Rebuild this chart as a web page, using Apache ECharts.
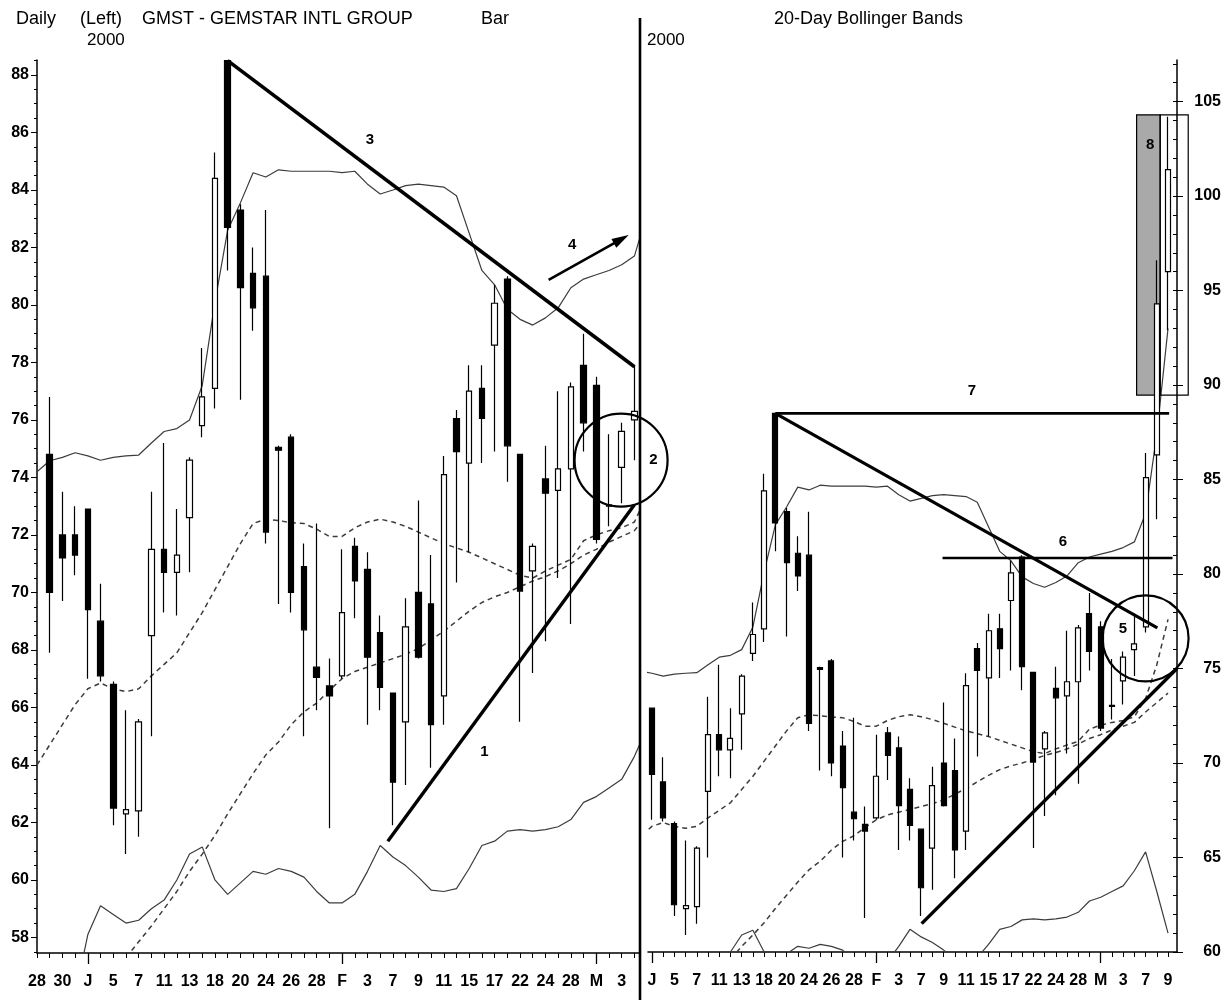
<!DOCTYPE html>
<html>
<head>
<meta charset="utf-8">
<title>GMST - Gemstar Intl Group, 20-Day Bollinger Bands</title>
<script src="https://cdn.jsdelivr.net/npm/echarts@6/dist/echarts.min.js"></script>
<style>
  html, body { margin: 0; padding: 0; background: #ffffff; }
  #chart { width: 1231px; height: 1000px; }
</style>
</head>
<body>
<div id="chart"></div>
<script>
// Trading days, 28 Dec 1999 .. 9 Mar 2000 (index 0 = Dec 28)
const dayLabels = ['28','29','30','31',
  'J','4','5','6','7','10','11','12','13','14','18','19','20','21','24','25','26','27','28','31',
  'F','2','3','4','7','8','9','10','11','14','15','16','17','18','22','23','24','25','28','29',
  'M','2','3','6','7','8','9'];
const monthStarts = [4, 24, 44];

// Daily prices
const openP  = [null, 74.8, 72.0, 72.0, 72.9, 69.0, 66.8, 62.3, 62.4, 68.5, 71.5, 70.7, 72.6, 75.8, 77.1, 88.5,
  83.3, 81.1, 81.0, 75.05, 75.4, 70.9, 67.4, 66.75, 67.1, 71.6, 70.8, 68.6, 66.5, 65.5, 70.0, 69.6, 66.4,
  76.05, 74.5, 77.1, 78.6, 80.9, 74.8, 70.75, 73.95, 73.55, 74.3, 77.9, 77.2, 73.0, 74.35, 76.0, 77.2, 86.3, 96.0];
const highP  = [null, 76.8, 73.5, 73.0, 72.9, 70.3, 66.9, 65.9, 65.6, 73.5, 75.2, 72.9, 74.7, 78.5, 85.3, 88.5,
  83.5, 82.0, 83.3, 75.1, 75.5, 71.7, 72.4, 67.7, 71.5, 71.9, 71.4, 69.2, 66.5, 69.8, 73.2, 71.3, 74.75,
  76.35, 77.9, 77.9, 80.7, 81.0, 74.8, 71.7, 75.1, 77.0, 77.3, 79.0, 77.5, 75.5, 75.9, 77.9, 86.4, 96.6, 104.2];
const lowP   = [null, 67.9, 69.7, 70.6, 67.0, 66.9, 61.9, 60.9, 61.5, 65.0, 69.3, 69.2, 70.7, 75.4, 76.4, 81.2,
  76.7, 79.1, 71.7, 69.6, 69.3, 65.0, 65.9, 61.8, 67.0, 69.1, 65.4, 65.9, 61.9, 63.3, 67.7, 63.9, 65.4,
  70.35, 71.4, 74.5, 74.9, 73.85, 65.5, 67.2, 68.3, 70.5, 68.9, 74.9, 71.7, 72.3, 73.1, 74.6, 76.9, 82.9, 92.9];
const closeP = [null, 70.0, 71.2, 71.3, 69.4, 67.1, 62.5, 62.45, 65.5, 71.5, 70.7, 71.3, 74.6, 76.8, 84.4, 82.7,
  80.6, 79.9, 72.1, 74.95, 70.0, 68.7, 67.05, 66.4, 69.3, 70.4, 67.75, 66.7, 63.4, 68.8, 67.75, 65.4, 74.1,
  74.9, 77.0, 76.05, 80.06, 75.1, 70.05, 71.6, 73.45, 74.3, 77.15, 75.9, 71.85, 73.05, 75.6, 76.3, 85.1, 94.3, 101.4];

// 20-day Bollinger bands and the longer moving average
const bandUpper = [74.2, 74.58, 74.7, 74.86, 74.75, 74.6, 74.7, 74.75, 74.78, 75.2, 75.6, 75.7, 76.0, 77.2, 80.1, 82.6,
  83.55, 84.6, 84.45, 84.7, 84.65, 84.65, 84.65, 84.65, 84.6, 84.65, 84.2, 83.86, 84.0, 84.15, 84.2, 84.15, 84.1,
  83.8, 82.5, 81.2, 80.7, 79.85, 79.5, 79.3, 79.55, 79.9, 80.6, 80.9, 81.05, 81.2, 81.4, 81.7, 83.2, 87.4, 93.0];
const bandMiddle = [64.0, 64.7, 65.4, 66.1, 66.65, 66.85, 66.65, 66.55, 66.65, 67.1, 67.5, 67.9, 68.6, 69.3, 70.1, 70.9,
  71.7, 72.4, 72.55, 72.5, 72.43, 72.4, 72.2, 71.95, 71.95, 72.25, 72.45, 72.55, 72.45, 72.3, 72.1, 71.9, 71.7,
  71.55, 71.4, 71.2, 71.0, 70.8, 70.6, 70.5, 70.75, 70.95, 71.15, 71.8, 72.0, 72.15, 72.25, 72.45, 73.4, 75.2, 77.6];
const bandLower = [null, null, null, 56.0, 58.1, 59.1, 58.8, 58.5, 58.6, 59.0, 59.3, 60.0, 60.9, 61.15, 60.0, 59.5,
  59.9, 60.3, 60.2, 60.4, 60.3, 60.1, 59.6, 59.2, 59.2, 59.5, 60.3, 61.2, 60.8, 60.5, 60.1, 59.65, 59.6,
  59.7, 60.4, 61.2, 61.35, 61.7, 61.75, 61.7, 61.75, 61.85, 62.1, 62.7, 62.9, 63.2, 63.5, 64.3, 65.3, 63.2, 61.0];
const longAverage = [null, null, null, null, null, null, null, 57.3, 57.85, 58.4, 59.0, 59.6, 60.3, 60.9, 61.55, 62.3,
  63.0, 63.7, 64.35, 64.8, 65.4, 65.85, 66.15, 66.6, 67.0, 67.25, 67.4, 67.55, 67.7, 67.85, 68.05, 68.35, 68.65,
  69.0, 69.35, 69.65, 69.85, 70.0, 70.2, 70.4, 70.55, 70.75, 71.0, 71.3, 71.5, 71.75, 71.95, 72.15, 72.7, 73.2, 73.7];

// Price axis tick labels
const leftPriceTicks = [58, 60, 62, 64, 66, 68, 70, 72, 74, 76, 78, 80, 82, 84, 86, 88];
const rightPriceTicks = [60, 65, 70, 75, 80, 85, 90, 95, 100, 105];

// Hand-drawn study annotations, in (day index, price) terms
const trend3 = [[15, 88.5], [47, 77.85]];
const trend1 = [[27.6, 61.35], [47, 73.05]];
const arrow4 = [[40.25, 80.87], [46.55, 82.43]];
const level7 = [[15, 88.5], [50.1, 88.5]];
const trendDownRight = [[15, 88.5], [49.05, 77.15]];
const level6 = [[29.9, 80.85], [50.4, 80.85]];
const trendUpRight = [[28.04, 61.5], [50.8, 75.0]];
const boxShaded = [[47.2, 89.47], [49.3, 104.3]];
const boxOpen = [[49.3, 89.47], [51.8, 104.3]];
const circle2 = [45.95, 74.6];
const circle5 = [48.0, 76.6];
const notesLeft = [['3', 26.2, 85.75], ['1', 35.2, 64.45], ['4', 42.1, 82.1], ['2', 48.5, 74.6]];
const notesRight = [['7', 32.52, 89.7], ['6', 40.63, 81.72], ['5', 45.98, 77.12], ['8', 48.4, 102.7]];

const FONT = "'Liberation Sans', Arial, Helvetica, sans-serif";
const INK = '#000000';

function range(a, b, step) {
  const r = [];
  for (let v = a; v <= b + 1e-9; v += step) r.push(Math.round(v * 100) / 100);
  return r;
}

const candles = [];
for (let i = 0; i < dayLabels.length; i++) {
  if (openP[i] == null) continue;
  candles.push([i, openP[i], closeP[i], lowP[i], highP[i]]);
}
function pairs(arr) {
  const out = [];
  arr.forEach((v, i) => { if (v != null) out.push([i, v]); });
  return out;
}

const chart = echarts.init(document.getElementById('chart'), null, { renderer: 'canvas' });

const candleStyle = {
  color: '#ffffff', color0: INK, borderColor: INK, borderColor0: INK, borderColorDoji: INK, borderWidth: 1.2
};
function candleSeries(xi, yi, w) {
  return {
    type: 'candlestick', xAxisIndex: xi, yAxisIndex: yi, data: candles,
    barWidth: w, itemStyle: candleStyle, clip: true, silent: true, z: 3
  };
}
function lineSeries(arr, xi, yi, dashed) {
  return {
    type: 'line', xAxisIndex: xi, yAxisIndex: yi, data: pairs(arr),
    symbol: 'none', silent: true, clip: true, z: 2,
    lineStyle: dashed ? { color: '#3c3c3c', width: 1.5, type: [5, 4] } : { color: '#3c3c3c', width: 1.2 }
  };
}

function dayAxis(grid, min, max, tickVals, labelVals) {
  return {
    gridIndex: grid, type: 'value', position: 'bottom', min: min, max: max,
    axisLine: { show: true, onZero: false, lineStyle: { color: INK, width: 1.5 } },
    axisTick: { show: true, customValues: tickVals, length: 5, lineStyle: { color: INK, width: 1 } },
    axisLabel: {
      customValues: labelVals, formatter: v => dayLabels[Math.round(v)] || '',
      color: INK, fontSize: 16, fontWeight: 'bold', fontFamily: FONT, margin: 21
    },
    splitLine: { show: false }
  };
}
function monthAxis(grid, min, max, vals) {
  return {
    gridIndex: grid, type: 'value', position: 'bottom', min: min, max: max,
    axisLine: { show: false, onZero: false },
    axisTick: { show: true, customValues: vals, length: 11, lineStyle: { color: INK, width: 1.3 } },
    axisLabel: { show: false }, splitLine: { show: false }
  };
}

const leftX = [0, 47.36];
const rightX = [3.65, 50.8];

chart.setOption({
  animation: false,
  backgroundColor: '#ffffff',
  grid: [
    { left: 37, top: 60, width: 602, height: 893 },
    { left: 648, top: 60, width: 529, height: 892 }
  ],
  xAxis: [
    dayAxis(0, leftX[0], leftX[1], range(0, 47, 1), range(0, 46, 2)),
    monthAxis(0, leftX[0], leftX[1], monthStarts),
    dayAxis(1, rightX[0], rightX[1], range(4, 50, 1), range(4, 50, 2)),
    monthAxis(1, rightX[0], rightX[1], monthStarts)
  ],
  yAxis: [
    {
      gridIndex: 0, type: 'value', position: 'left', min: 57.46, max: 88.52,
      axisLine: { show: true, onZero: false, lineStyle: { color: INK, width: 1.5 } },
      axisTick: { show: true, customValues: leftPriceTicks, length: 6, lineStyle: { color: INK } },
      axisLabel: { customValues: leftPriceTicks, color: INK, fontSize: 16, fontWeight: 'bold', fontFamily: FONT, margin: 8 },
      splitLine: { show: false }
    },
    {
      gridIndex: 0, type: 'value', position: 'left', min: 57.46, max: 88.52,
      axisLine: { show: false, onZero: false },
      axisTick: { show: true, customValues: range(57.5, 88.5, 0.5), length: 3, lineStyle: { color: INK } },
      axisLabel: { show: false }, splitLine: { show: false }
    },
    {
      gridIndex: 1, type: 'value', position: 'right', min: 60, max: 107.2,
      axisLine: { show: true, onZero: false, lineStyle: { color: INK, width: 1.5 } },
      axisTick: { show: true, customValues: rightPriceTicks, length: 6, lineStyle: { color: INK } },
      axisLabel: { customValues: rightPriceTicks, color: INK, fontSize: 16, fontWeight: 'bold', fontFamily: FONT, margin: 44, align: 'right' },
      splitLine: { show: false }
    },
    {
      gridIndex: 1, type: 'value', position: 'right', min: 60, max: 107.2,
      axisLine: { show: false, onZero: false },
      axisTick: { show: true, inside: true, customValues: range(60, 107, 1), length: 4, lineStyle: { color: INK } },
      axisLabel: { show: false }, splitLine: { show: false }
    }
  ],
  series: [
    lineSeries(bandUpper, 0, 0, false),
    lineSeries(bandLower, 0, 0, false),
    lineSeries(bandMiddle, 0, 0, true),
    lineSeries(longAverage, 0, 0, true),
    candleSeries(0, 0, 6),
    lineSeries(bandUpper, 2, 2, false),
    lineSeries(bandLower, 2, 2, false),
    lineSeries(bandMiddle, 2, 2, true),
    lineSeries(longAverage, 2, 2, true),
    candleSeries(2, 2, 5.5)
  ]
});

// ---- annotation layer ----
function toPx(grid, pt) {
  return chart.convertToPixel({ gridIndex: grid }, pt);
}
function segment(grid, pts, width) {
  const a = toPx(grid, pts[0]), b = toPx(grid, pts[1]);
  return {
    type: 'line', z: 50, silent: true,
    shape: { x1: a[0], y1: a[1], x2: b[0], y2: b[1] },
    style: { stroke: INK, lineWidth: width, lineCap: 'butt' }
  };
}
function arrow(grid, pts) {
  const a = toPx(grid, pts[0]), b = toPx(grid, pts[1]);
  const dx = b[0] - a[0], dy = b[1] - a[1];
  const len = Math.sqrt(dx * dx + dy * dy);
  const ux = dx / len, uy = dy / len, px = -uy, py = ux;
  const head = 17, half = 5;
  const bx = b[0] - ux * head, by = b[1] - uy * head;
  return [
    { type: 'line', z: 50, silent: true, shape: { x1: a[0], y1: a[1], x2: bx + ux * 2, y2: by + uy * 2 },
      style: { stroke: INK, lineWidth: 2.6 } },
    { type: 'polygon', z: 50, silent: true,
      shape: { points: [[b[0], b[1]], [bx + px * half, by + py * half], [bx - px * half, by - py * half]] },
      style: { fill: INK } }
  ];
}
function ring(grid, c, r) {
  const p = toPx(grid, c);
  return { type: 'circle', z: 50, silent: true, shape: { cx: p[0], cy: p[1], r: r },
    style: { fill: null, stroke: INK, lineWidth: 2.2 } };
}
function rectOf(grid, pts, fill, z) {
  const a = toPx(grid, pts[0]), b = toPx(grid, pts[1]);
  return { type: 'rect', z: z, silent: true,
    shape: { x: Math.min(a[0], b[0]), y: Math.min(a[1], b[1]), width: Math.abs(b[0] - a[0]), height: Math.abs(b[1] - a[1]) },
    style: { fill: fill, stroke: INK, lineWidth: 1.2 } };
}
function note(grid, n) {
  const p = toPx(grid, [n[1], n[2]]);
  return { type: 'text', z: 60, silent: true, x: p[0], y: p[1],
    style: { text: n[0], fill: INK, font: 'bold 15px ' + FONT, align: 'center', verticalAlign: 'middle' } };
}
function caption(text, x, y, size) {
  return { type: 'text', z: 60, silent: true, x: x, y: y,
    style: { text: text, fill: INK, font: size + 'px ' + FONT, align: 'left', verticalAlign: 'middle' } };
}

const graphics = [
  // panel divider
  { type: 'line', z: 40, silent: true, shape: { x1: 640, y1: 18, x2: 640, y2: 1000 },
    style: { stroke: INK, lineWidth: 2.6 } },
  caption('Daily', 16, 19, 18),
  caption('(Left)', 80, 19, 18),
  caption('GMST - GEMSTAR INTL GROUP', 142, 19, 18),
  caption('Bar', 481, 19, 18),
  caption('2000', 87, 40, 17),
  caption('2000', 647, 40, 17),
  caption('20-Day Bollinger Bands', 774, 19, 18),
  rectOf(1, boxShaded, '#a9a9a9', 1),
  rectOf(1, boxOpen, null, 50),
  segment(0, trend3, 3.6),
  segment(0, trend1, 3.4),
  segment(1, level7, 2.8),
  segment(1, trendDownRight, 3.2),
  segment(1, level6, 2.6),
  segment(1, trendUpRight, 3.4),
  ring(0, circle2, 46.5),
  ring(1, circle5, 43)
].concat(arrow(0, arrow4))
 .concat(notesLeft.map(n => note(0, n)))
 .concat(notesRight.map(n => note(1, n)));

chart.setOption({ graphic: { elements: graphics } });
</script>
</body>
</html>
